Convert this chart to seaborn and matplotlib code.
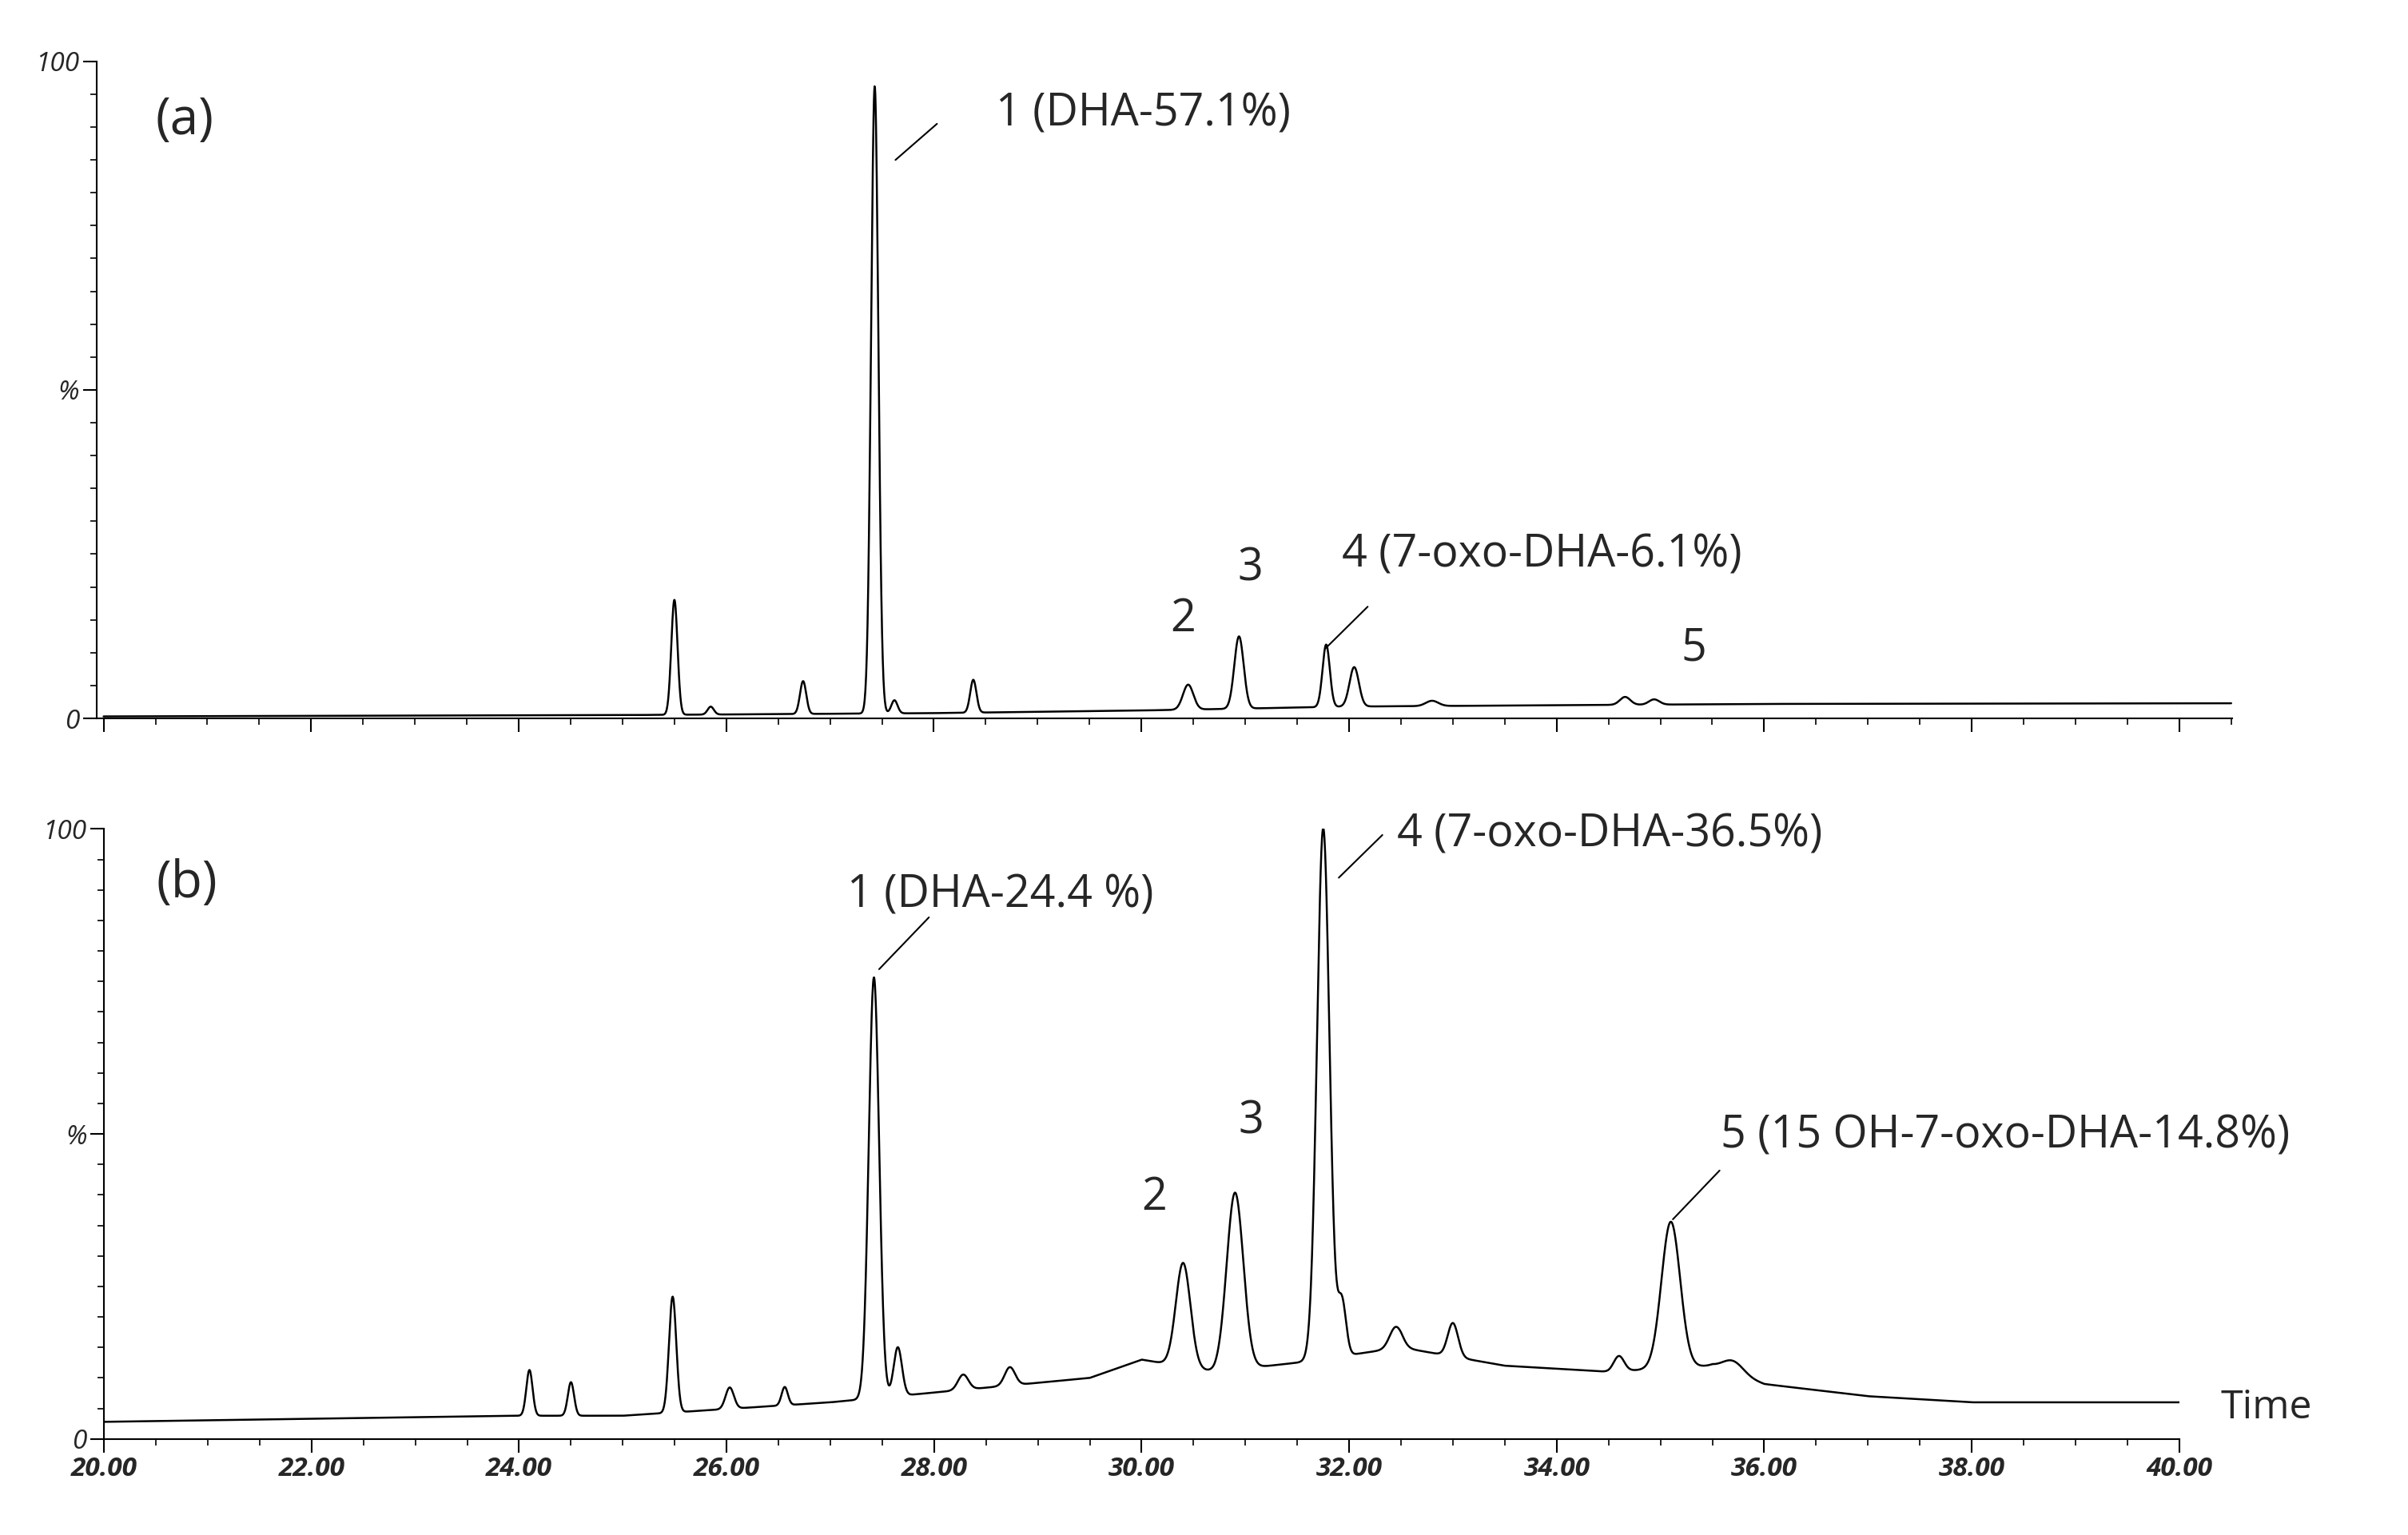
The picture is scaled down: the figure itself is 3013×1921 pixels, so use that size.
import numpy as np
import pandas as pd
import matplotlib
matplotlib.use("Agg")
import matplotlib.pyplot as plt
import seaborn as sns
from matplotlib.ticker import MultipleLocator

sns.set_theme(style="white")
plt.rcParams['font.family'] = ['Open Sans', 'DejaVu Sans']

# ---- data ----
# panel (a): baseline knots (time, %) and peaks (time, height %, width)
base_a_t = [20.0, 25.0, 28.0, 30.0, 32.0, 34.0, 36.0, 40.5]
base_a_y = [0.3, 0.5, 0.8, 1.2, 1.8, 2.0, 2.2, 2.3]
peaks_a_t = [25.50, 25.85, 26.74, 27.43, 27.62, 28.38, 30.45, 30.94, 31.78, 32.05, 32.80, 34.66, 34.94]
peaks_a_h = [17.5, 1.2, 5.0, 95.5, 2.0, 5.0, 3.8, 11.0, 9.5, 6.0, 0.8, 1.2, 0.8]
peaks_a_w = [0.03, 0.03, 0.03, 0.035, 0.03, 0.03, 0.05, 0.045, 0.035, 0.045, 0.06, 0.05, 0.05]

# panel (b)
base_b_t = [20.0, 24.0, 25.0, 27.0, 28.0, 29.5, 30.0, 30.7, 31.5, 32.5, 33.5, 34.5, 35.5, 36.0, 37.0, 38.0, 40.0]
base_b_y = [2.8, 3.8, 3.8, 6.0, 7.6, 10.0, 13.0, 11.0, 12.5, 15.0, 12.0, 11.0, 12.0, 9.0, 7.0, 6.0, 6.0]
peaks_b_t = [24.10, 24.50, 25.48, 26.03, 26.56, 27.42, 27.65, 28.28, 28.73, 30.40, 30.90, 31.75, 31.93, 32.45, 33.00, 34.60, 35.10, 35.70]
peaks_b_h = [7.5, 5.5, 19.0, 3.5, 3.0, 69.0, 8.0, 2.5, 3.0, 17.0, 29.0, 87.0, 9.0, 3.5, 5.5, 2.5, 24.0, 2.0]
peaks_b_w = [0.03, 0.03, 0.035, 0.04, 0.03, 0.05, 0.04, 0.05, 0.05, 0.07, 0.08, 0.06, 0.04, 0.06, 0.05, 0.05, 0.09, 0.1]

labels_a = [("1 (DHA-57.1%)", 28.6, 92), ("2", 30.28, 15), ("3", 30.93, 22.7),
            ("4 (7-oxo-DHA-6.1%)", 31.93, 24.8), ("5", 35.2, 10.6)]
leaders_a = [((27.63, 85), (28.03, 90.5)), ((31.77, 10.6), (32.18, 17))]
labels_b = [("1 (DHA-24.4 %)", 27.16, 89), ("2", 30.0, 39.4), ("3", 30.93, 52),
            ("4 (7-oxo-DHA-36.5%)", 32.46, 99), ("5 (15 OH-7-oxo-DHA-14.8%)", 35.58, 49.6)]
leaders_b = [((27.47, 77), (27.95, 85.5)), ((31.9, 92), (32.32, 99)), ((35.12, 36), (35.57, 44))]


def trace(t, bt, by, pt, ph, pw):
    y = np.interp(t, bt, by)
    for c, h, w in zip(pt, ph, pw):
        y = y + h * np.exp(-0.5 * ((t - c) / w) ** 2)
    return y

ta = np.linspace(20.0, 40.5, 6000)
tb = np.linspace(20.0, 40.0, 6000)
df_a = pd.DataFrame({"t": ta, "y": trace(ta, base_a_t, base_a_y, peaks_a_t, peaks_a_h, peaks_a_w)})
df_b = pd.DataFrame({"t": tb, "y": trace(tb, base_b_t, base_b_y, peaks_b_t, peaks_b_h, peaks_b_w)})

fig = plt.figure(figsize=(30.13, 19.21), dpi=100)
ax_a = fig.add_axes([0.040, 0.532, 0.887, 0.428])
ax_b = fig.add_axes([0.0432, 0.0626, 0.8618, 0.3974])

ann_fs = 40
for ax, df, labels, leaders, xl, tag in [
        (ax_a, df_a, labels_a, leaders_a, (19.93, 40.51), "(a)"),
        (ax_b, df_b, labels_b, leaders_b, (20.0, 40.0), "(b)")]:
    sns.lineplot(data=df, x="t", y="y", ax=ax, color="black", linewidth=1.8)
    ax.set_xlim(*xl)
    ax.set_ylim(0, 100)
    sns.despine(ax=ax)
    ax.spines['left'].set_linewidth(1.5)
    ax.spines['bottom'].set_linewidth(1.5)
    ax.spines['left'].set_color('black')
    ax.spines['bottom'].set_color('black')
    ax.set_xlabel("")
    ax.set_ylabel("")
    ax.set_yticks([0, 50, 100])
    ax.set_yticklabels(["0", "%", "100"], fontstyle="italic", fontsize=24)
    ax.yaxis.set_minor_locator(MultipleLocator(5))
    ax.xaxis.set_major_locator(MultipleLocator(2))
    ax.xaxis.set_minor_locator(MultipleLocator(0.5))
    ax.tick_params(axis='both', which='major', direction='out', length=12, width=1.5, color='black', left=True, bottom=True)
    ax.tick_params(axis='both', which='minor', direction='out', length=6, width=1.2, color='black', left=True, bottom=True)
    for s, x, y in labels:
        ax.text(x, y, s, fontsize=ann_fs, ha='left', va='center')
    for (x0, y0), (x1, y1) in leaders:
        ax.plot([x0, x1], [y0, y1], color='black', lw=1.5)
    ax.text(20.5, 91, tag, fontsize=46, ha='left', va='center')

ax_a.set_xticklabels([])
ax_b.set_xticks(np.arange(20, 40.01, 2))
ax_b.set_xticklabels([f"{v:.2f}" for v in np.arange(20, 40.01, 2)], fontstyle="italic", fontsize=24, fontweight='bold')
ax_b.text(40.4, 5, "Time", fontsize=36, ha='left', va='center', clip_on=False)

fig.savefig("out.png", dpi=100)
